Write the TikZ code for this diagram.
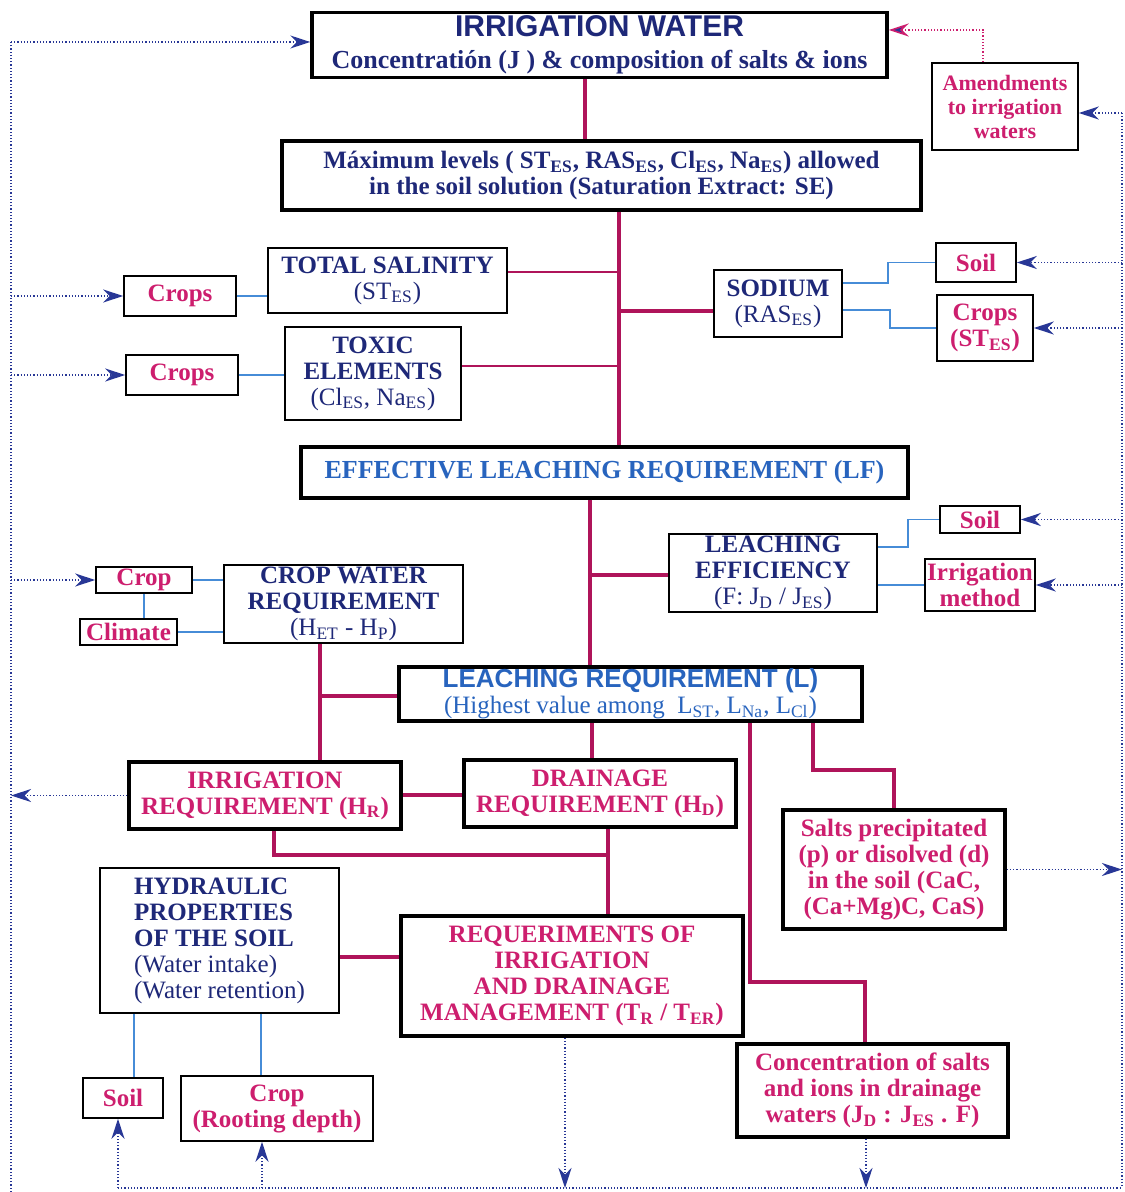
\documentclass[tikz,border=0pt]{standalone}
\usepackage{fontspec}
\setmainfont{Liberation Serif}
\newfontfamily\headfont{Liberation Sans}
\usetikzlibrary{arrows.meta}
\definecolor{navy}{RGB}{30,40,120}
\definecolor{pinktext}{RGB}{205,30,110}
\definecolor{skytext}{RGB}{40,100,190}
\definecolor{linkred}{RGB}{175,20,90}
\definecolor{feedblue}{RGB}{70,140,215}
\definecolor{loopblue}{RGB}{40,55,150}
\newcommand{\subt}[1]{\textsubscript{#1}}

\begin{document}
\begin{tikzpicture}[x=0.5pt,y=-0.5pt,>={Stealth[length=10pt,width=6.5pt,fill=loopblue,line width=0.8pt]},semithick]
\tikzstyle{box}=[draw=black,fill=white,align=center,inner sep=1pt,line width=0.8pt,font=\bfseries\fontsize{12.5}{13}\selectfont]
\tikzstyle{bigbox}=[box,line width=1.7pt]
\tikzstyle{link}=[draw=linkred,line width=1.6pt]
\tikzstyle{thinlink}=[draw=linkred,line width=0.8pt]
\tikzstyle{feed}=[draw=feedblue,line width=0.7pt]
\tikzstyle{loopline}=[draw=loopblue,densely dotted,line width=0.6pt]
\useasboundingbox (0,0) rectangle (1124,1192);

% boxes
\node[bigbox,text=navy,minimum width=287.5pt,minimum height=32.5pt] (IW) at (599.5,45) {{\headfont\fontsize{15}{17}\selectfont IRRIGATION WATER}\\[3pt]\fontsize{13}{14}\selectfont Concentratión (J ) \& composition of salts \& ions};
\node[box,text=pinktext,font=\bfseries\fontsize{11}{12}\selectfont,minimum width=73pt,minimum height=43.5pt] (AM) at (1005,106.5) {Amendments\\to irrigation\\waters};
\node[bigbox,text=navy,minimum width=319.5pt,minimum height=34.5pt] (ML) at (601.5,175.5) {Máximum levels ( ST\subt{ES}, RAS\subt{ES}, Cl\subt{ES}, Na\subt{ES}) allowed\\in the soil solution (Saturation Extract: SE)};
\node[box,text=navy,minimum width=119.5pt,minimum height=32.5pt] (TS) at (387.5,280.5) {TOTAL SALINITY\\\mdseries(ST\subt{ES})};
\node[box,text=pinktext,minimum width=56pt,minimum height=20pt] (CA) at (180,296) {Crops};
\node[box,text=navy,minimum width=88pt,minimum height=46.5pt] (TE) at (373,373.5) {TOXIC\\ELEMENTS\\\mdseries(Cl\subt{ES}, Na\subt{ES})};
\node[box,text=pinktext,minimum width=56pt,minimum height=20pt] (CB) at (182,375) {Crops};
\node[box,text=navy,minimum width=64pt,minimum height=33.5pt] (SO) at (778,303.5) {SODIUM\\\mdseries(RAS\subt{ES})};
\node[box,text=pinktext,minimum width=40pt,minimum height=19.5pt] (SA) at (976,262.5) {Soil};
\node[box,text=pinktext,minimum width=48pt,minimum height=33pt] (CC) at (985,328) {Crops\\(ST\subt{ES})};
\node[bigbox,text=skytext,font=\bfseries\fontsize{13}{14}\selectfont,minimum width=303.5pt,minimum height=25.5pt] (ELR) at (604.5,472.5) {EFFECTIVE LEACHING REQUIREMENT (LF)};
\node[box,text=navy,minimum width=104pt,minimum height=39pt] (LE) at (773,573) {LEACHING\\EFFICIENCY\\\mdseries(F: J\subt{D} / J\subt{ES})};
\node[box,text=pinktext,minimum width=40pt,minimum height=13.5pt] (SB) at (980,519.5) {Soil};
\node[box,text=pinktext,minimum width=55pt,minimum height=26pt] (IM) at (980,585) {Irrigation\\method};
\node[box,text=navy,minimum width=119.5pt,minimum height=39pt] (CWR) at (343.5,604) {CROP WATER\\REQUIREMENT\\\mdseries(H\subt{ET} - H\subt{P})};
\node[box,text=pinktext,minimum width=48pt,minimum height=13pt] (CR) at (144,580) {Crop};
\node[box,text=pinktext,minimum width=48.5pt,minimum height=13pt] (CL) at (128.5,632) {Climate};
\node[bigbox,text=skytext,minimum width=231.5pt,minimum height=27pt] (LR) at (630.5,694) {{\headfont\fontsize{13}{14}\selectfont LEACHING REQUIREMENT (L)}\\\mdseries(Highest value among\ \ L\subt{ST}, L\subt{Na}, L\subt{Cl})};
\node[bigbox,text=pinktext,minimum width=136pt,minimum height=33.5pt] (IR) at (265,795.5) {IRRIGATION\\REQUIREMENT (H\subt{R})};
\node[bigbox,text=pinktext,minimum width=136pt,minimum height=33.5pt] (DR) at (600,793.5) {DRAINAGE\\REQUIREMENT (H\subt{D})};
\node[bigbox,text=pinktext,minimum width=111pt,minimum height=59.5pt] (SP) at (894,869.5) {Salts precipitated\\(p) or disolved (d)\\in the soil (CaC,\\(Ca+Mg)C, CaS)};
\node[box,text=navy,align=left,minimum width=119.5pt,minimum height=72.5pt] (HP) at (219.5,940.5) {HYDRAULIC\\PROPERTIES\\OF THE SOIL\\\mdseries(Water intake)\\\mdseries(Water retention)};
\node[bigbox,text=pinktext,minimum width=171pt,minimum height=60pt] (RM) at (572,976) {REQUERIMENTS OF\\IRRIGATION\\AND DRAINAGE\\MANAGEMENT (T\subt{R} / T\subt{ER})};
\node[bigbox,text=pinktext,minimum width=135.5pt,minimum height=46.5pt] (CD) at (872.5,1090.5) {Concentration of salts\\and ions in drainage\\waters (J\subt{D} : J\subt{ES} . F)};
\node[box,text=pinktext,minimum width=40pt,minimum height=20pt] (SC) at (123,1098) {Soil};
\node[box,text=pinktext,minimum width=96pt,minimum height=32.5pt] (RD) at (277,1108.5) {Crop\\(Rooting depth)};

% junctions
\coordinate (t1) at (585,0);
\coordinate (t2) at (619,0);
\coordinate (t3) at (590,0);
\coordinate (t4) at (320,0);
\coordinate (t5) at (592,0);
\coordinate (t6) at (608,0);
\coordinate (jts) at (619,272);
\coordinate (jtx) at (619,366);
\coordinate (jso) at (619,311);
\coordinate (jle) at (590,575);
\coordinate (jcw) at (320,696);
\coordinate (jir) at (0,795);
\coordinate (jdr) at (274,855);
\coordinate (jcd) at (750,982);
\coordinate (kcd) at (865,0);
\coordinate (jsp) at (813,770);
\coordinate (jhp) at (0,957);
\coordinate (fa) at (888,283);
\coordinate (fb) at (890,310);
\coordinate (fc) at (908,547);
\coordinate (fd) at (134,0);
\coordinate (fe) at (261,0);
\coordinate (LT) at (11,42);
\coordinate (LB) at (11,1192);
\coordinate (RT) at (1122,113);
\coordinate (RB) at (1122,1188);
\coordinate (BL) at (118,1188);
\coordinate (ja) at (983,30);
\coordinate (jd) at (565,1188);
\coordinate (je) at (866,1188);
\coordinate (jf) at (262,0);

% main chain
\draw[link] (IW.south -| t1) -- (ML.north -| t1);
\draw[link] (ML.south -| t2) -- (ELR.north -| t2);
\draw[thinlink] (TS.east |- jts) -- (jts);
\draw[thinlink] (TE.east |- jtx) -- (jtx);
\draw[link] (SO.west |- jso) -- (jso);
\draw[link] (ELR.south -| t3) -- (LR.north -| t3);
\draw[link] (LE.west |- jle) -- (jle);
\draw[link] (CWR.south -| t4) -- (IR.north -| t4);
\draw[link] (jcw) -- (LR.west |- jcw);
\draw[link] (LR.south -| t5) -- (DR.north -| t5);
\draw[link] (IR.east |- jir) -- (DR.west |- jir);
\draw[link] (DR.south -| t6) -- (RM.north -| t6);
\draw[link] (IR.south -| jdr) -- (jdr) -- (jdr -| t6);
\draw[link] (LR.south -| jcd) -- (jcd) -| (CD.north -| kcd);
\draw[link] (LR.south -| jsp) -- (jsp) -| (SP.north);
\draw[link] (HP.east |- jhp) -- (RM.west |- jhp);

% factors
\draw[feed] (CA.east) -- (TS.west |- CA.east);
\draw[feed] (CB.east) -- (TE.west |- CB.east);
\draw[feed] (SO.east |- fa) -- (fa) |- (SA.west);
\draw[feed] (SO.east |- fb) -- (fb) |- (CC.west);
\draw[feed] (LE.east |- fc) -- (fc) |- (SB.west);
\draw[feed] (LE.east |- IM.west) -- (IM.west);
\draw[feed] (CR.east) -- (CWR.west |- CR.east);
\draw[feed] (CR.south) -- (CR.south |- CL.north);
\draw[feed] (CL.east) -- (CWR.west |- CL.east);
\draw[feed] (HP.south -| fd) -- (SC.north -| fd);
\draw[feed] (HP.south -| fe) -- (RD.north -| fe);

% feedback loops
\draw[loopline] (LB) -- (LT);
\draw[loopline,->] (LT) -- (IW.west |- LT);
\draw[loopline,->] (LT |- CA.west) -- (CA.west);
\draw[loopline,->] (LT |- CB.west) -- (CB.west);
\draw[loopline,->] (LT |- CR.west) -- (CR.west);
\draw[loopline,->] (IR.west) -- (LT |- IR.west);
\draw[loopline] (RT) -- (RB);
\draw[loopline,->] (RT) -- (AM.east |- RT);
\draw[loopline,->] (RT |- SA.east) -- (SA.east);
\draw[loopline,->] (RT |- CC.east) -- (CC.east);
\draw[loopline,->] (RT |- SB.east) -- (SB.east);
\draw[loopline,->] (RT |- IM.east) -- (IM.east);
\draw[loopline,->] (SP.east) -- (RT |- SP.east);
\draw[loopline,draw=pinktext,->] (AM.north -| ja) -- (ja) -- (IW.east |- ja);
\draw[loopline] (BL) -- (RB);
\draw[loopline,->] (RM.south -| jd) -- (jd);
\draw[loopline,->] (CD.south -| je) -- (je);
\draw[loopline,->] (BL) -- (SC.south -| BL);
\draw[loopline,->] (BL -| jf) -- (RD.south -| jf);
\end{tikzpicture}
\end{document}
